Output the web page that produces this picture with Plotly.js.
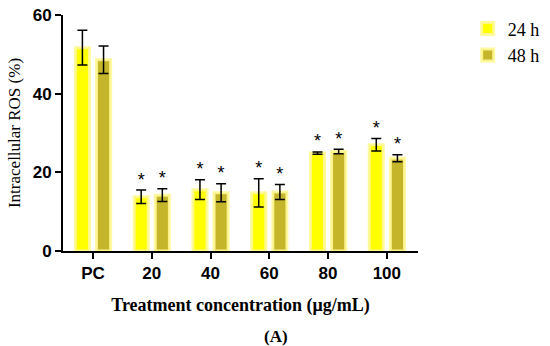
<!DOCTYPE html>
<html>
<head>
<meta charset="utf-8">
<script src="https://cdn.plot.ly/plotly-3.0.1.min.js"></script>
<style>html,body{margin:0;padding:0;background:#fff;}#chart{width:550px;height:346px;}</style>
</head>
<body>
<div id="chart"></div>
<script>
const categories = ["PC", "20", "40", "60", "80", "100"];
const series24 = [51.7, 13.8, 15.6, 14.8, 24.9, 27.0];
const err24 = [4.4, 1.7, 2.5, 3.6, 0.3, 1.6];
const series48 = [48.6, 14.2, 14.8, 15.0, 25.3, 23.6];
const err48 = [3.5, 1.6, 2.3, 1.9, 0.6, 0.9];
const sig24 = ["", "*", "*", "*", "*", "*"];
const sig48 = ["", "*", "*", "*", "*", "*"];
const seriesNames = ["24 h", "48 h"];

const serif = "Liberation Serif, serif";
const sans = "Liberation Sans, Arial, sans-serif";

function barTrace(name, y, e, color, off) {
  return {
    type: "bar", name: name, x: categories, y: y,
    width: 0.24, offset: off,
    marker: {color: color, line: {color: "rgba(255,248,150,0.9)", width: 3}},
    error_y: {type: "data", array: e, visible: true, color: "#000", thickness: 1.5, width: 5}
  };
}
const traces = [
  barTrace(seriesNames[0], series24, err24, "#ffff00", -0.3),
  barTrace(seriesNames[1], series48, err48, "#c4b52a", 0.06)
];
const idx = categories.map((c, i) => i);
traces.push({
  type: "scatter", mode: "text", showlegend: false, hoverinfo: "skip",
  x: idx.map(i => i - 0.18), y: series24.map((v, i) => v + err24[i]), text: sig24,
  textposition: "top center", textfont: {family: sans, size: 18, color: "#000"}, xaxis: "x2"
});
traces.push({
  type: "scatter", mode: "text", showlegend: false, hoverinfo: "skip",
  x: idx.map(i => i + 0.18), y: series48.map((v, i) => v + err48[i]), text: sig48,
  textposition: "top center", textfont: {family: sans, size: 18, color: "#000"}, xaxis: "x2"
});

const layout = {
  width: 550, height: 346,
  margin: {l: 63, r: 132, t: 15, b: 95, autoexpand: false},
  paper_bgcolor: "#fff", plot_bgcolor: "#fff",
  showlegend: true,
  legend: {x: 1.14, y: 1.02, xanchor: "left", yanchor: "top", bgcolor: "rgba(0,0,0,0)",
    font: {family: serif, size: 18, color: "#000"}, tracegroupgap: 17},
  xaxis: {
    type: "category",
    range: [-0.51, 5.53], showline: true, linecolor: "#000", linewidth: 2,
    ticks: "outside", ticklen: 6, tickwidth: 2, tickcolor: "#000",
    tickfont: {family: sans, size: 17, color: "#000", weight: "bold"},
    showgrid: false, zeroline: false, fixedrange: true,
    title: {text: "<b>Treatment concentration (μg/mL)</b>", font: {family: serif, size: 18, color: "#000"}, standoff: 16}
  },
  xaxis2: {type: "linear", range: [-0.51, 5.53], overlaying: "x", visible: false},
  yaxis: {
    range: [0, 60], showline: true, linecolor: "#000", linewidth: 2,
    ticks: "outside", ticklen: 6, tickwidth: 2, tickcolor: "#000", dtick: 20,
    tickfont: {family: sans, size: 17, color: "#000", weight: "bold"},
    showgrid: false, zeroline: false,
    title: {text: "Intracellular ROS (%)", font: {family: serif, size: 17, color: "#000"}, standoff: 8}
  },
  annotations: [{
    text: "<b>(A)</b>", xref: "paper", yref: "paper", x: 0.6, y: -0.315,
    xanchor: "center", yanchor: "top", showarrow: false,
    font: {family: serif, size: 17, color: "#000"}
  }]
};
Plotly.newPlot("chart", traces, layout, {displayModeBar: false, staticPlot: true});
</script>
</body>
</html>
